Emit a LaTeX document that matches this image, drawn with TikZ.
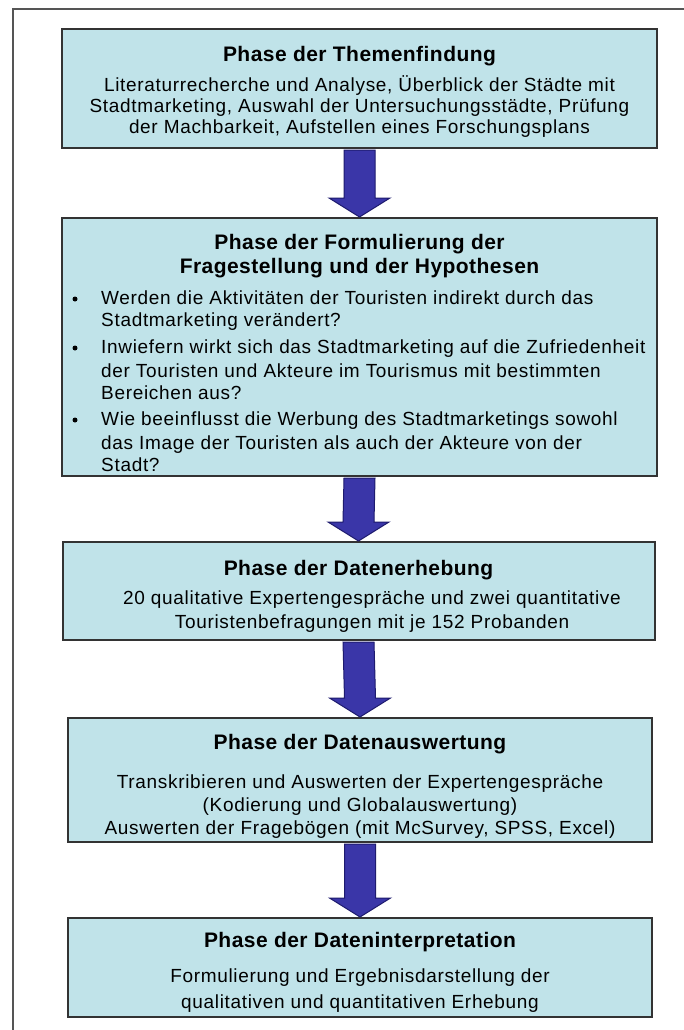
\documentclass[tikz,border=0pt]{standalone}
\usepackage{fontspec}
\setmainfont{Liberation Sans}[LetterSpace=3.6]
\newfontfamily\ttlfont{Liberation Sans}[LetterSpace=2.2]
\usetikzlibrary{calc}
\definecolor{boxfill}{HTML}{C0E3E9}
\definecolor{boxline}{HTML}{333333}
\definecolor{arrfill}{HTML}{3A36A8}
\definecolor{arrline}{HTML}{1E1B6E}
\definecolor{frameline}{HTML}{555555}
\newcommand\blockarrow[2]{%
  \draw[blk] ($(#1.south)+(-15.5,1)$) -- ($(#2.north)+(-15.5,-19)$) -- ($(#2.north)+(-30.5,-19)$)
    -- (#2.north) -- ($(#2.north)+(30.5,-19)$) -- ($(#2.north)+(15.5,-19)$) -- ($(#1.south)+(15.5,1)$) -- cycle;}
\begin{document}
\begin{tikzpicture}[x=1pt,y=-1pt,
  phase/.style={draw=boxline, fill=boxfill, line width=2pt, rectangle, inner sep=0pt},
  ttl/.style={anchor=base, inner sep=0pt, font=\fontsize{21}{24}\selectfont\ttlfont\bfseries},
  txt/.style={anchor=base, inner sep=0pt, font=\fontsize{19}{22}\selectfont},
  lft/.style={txt, anchor=base west},
  dot/.style={circle, fill=black, inner sep=0pt, minimum size=5pt},
  blk/.style={fill=arrfill, draw=arrline, line width=1pt, line join=miter},
  frame/.style={draw=frameline, line width=2pt}]
\useasboundingbox (0,0) rectangle (683,1030);
\fill[white] (0,0) rectangle (683,1030);
% outer frame
\coordinate (fbl) at (13,1031);
\coordinate (ftl) at (13,9);
\coordinate (ftr) at (684,9);
\draw[frame] (fbl) -- (ftl) -- (ftr);
% boxes
\node[phase, minimum width=595pt, minimum height=119pt] (b1) at (359.5,88.5) {};
\node[phase, minimum width=595pt, minimum height=258pt] (b2) at (359.5,347) {};
\node[phase, minimum width=592pt, minimum height=98pt] (b3) at (358.5,591) {};
\node[phase, minimum width=584pt, minimum height=124pt] (b4) at (360,780) {};
\node[phase, minimum width=584pt, minimum height=99pt] (b5) at (360,967.5) {};
% arrows
\blockarrow{b1}{b2}
\blockarrow{b2}{b3}
\blockarrow{b3}{b4}
\blockarrow{b4}{b5}
% box 1
\node[ttl] (t1) at (359.5,62) {Phase der Themenfindung};
\node[txt] (t1a) at (359.5,92) {Literaturrecherche und Analyse, Überblick der Städte mit};
\node[txt] (t1b) at (359.5,113) {Stadtmarketing, Auswahl der Untersuchungsstädte, Prüfung};
\node[txt] (t1c) at (359.5,134) {der Machbarkeit, Aufstellen eines Forschungsplans};
% box 2
\node[ttl] (t2) at (359.5,249) {Phase der Formulierung der};
\node[ttl] (t2b) at (359.5,273) {Fragestellung und der Hypothesen};
\node[dot] (d1) at (75,299) {};
\node[dot] (d2) at (75,348) {};
\node[dot] (d3) at (75,420) {};
\node[lft] (l1a) at (101,304) {Werden die Aktivitäten der Touristen indirekt durch das};
\node[lft] (l1b) at (101,326) {Stadtmarketing verändert?};
\node[lft] (l2a) at (101,353) {Inwiefern wirkt sich das Stadtmarketing auf die Zufriedenheit};
\node[lft] (l2b) at (101,377) {der Touristen und Akteure im Tourismus mit bestimmten};
\node[lft] (l2c) at (101,399) {Bereichen aus?};
\node[lft] (l3a) at (101,425) {Wie beeinflusst die Werbung des Stadtmarketings sowohl};
\node[lft] (l3b) at (101,449) {das Image der Touristen als auch der Akteure von der};
\node[lft] (l3c) at (101,471) {Stadt?};
% box 3
\node[ttl] (t3) at (358.5,575) {Phase der Datenerhebung};
\node[txt] (t3a) at (372,604) {20 qualitative Expertengespräche und zwei quantitative};
\node[txt] (t3b) at (372,628) {Touristenbefragungen mit je 152 Probanden};
% box 4
\node[ttl] (t4) at (360,749) {Phase der Datenauswertung};
\node[txt] (t4a) at (360,788) {Transkribieren und Auswerten der Expertengespräche};
\node[txt] (t4b) at (360,811) {(Kodierung und Globalauswertung)};
\node[txt] (t4c) at (360,834) {Auswerten der Fragebögen (mit McSurvey, SPSS, Excel)};
% box 5
\node[ttl] (t5) at (360,947) {Phase der Dateninterpretation};
\node[txt] (t5a) at (360,982) {Formulierung und Ergebnisdarstellung der};
\node[txt] (t5b) at (360,1008) {qualitativen und quantitativen Erhebung};
\end{tikzpicture}
\end{document}
